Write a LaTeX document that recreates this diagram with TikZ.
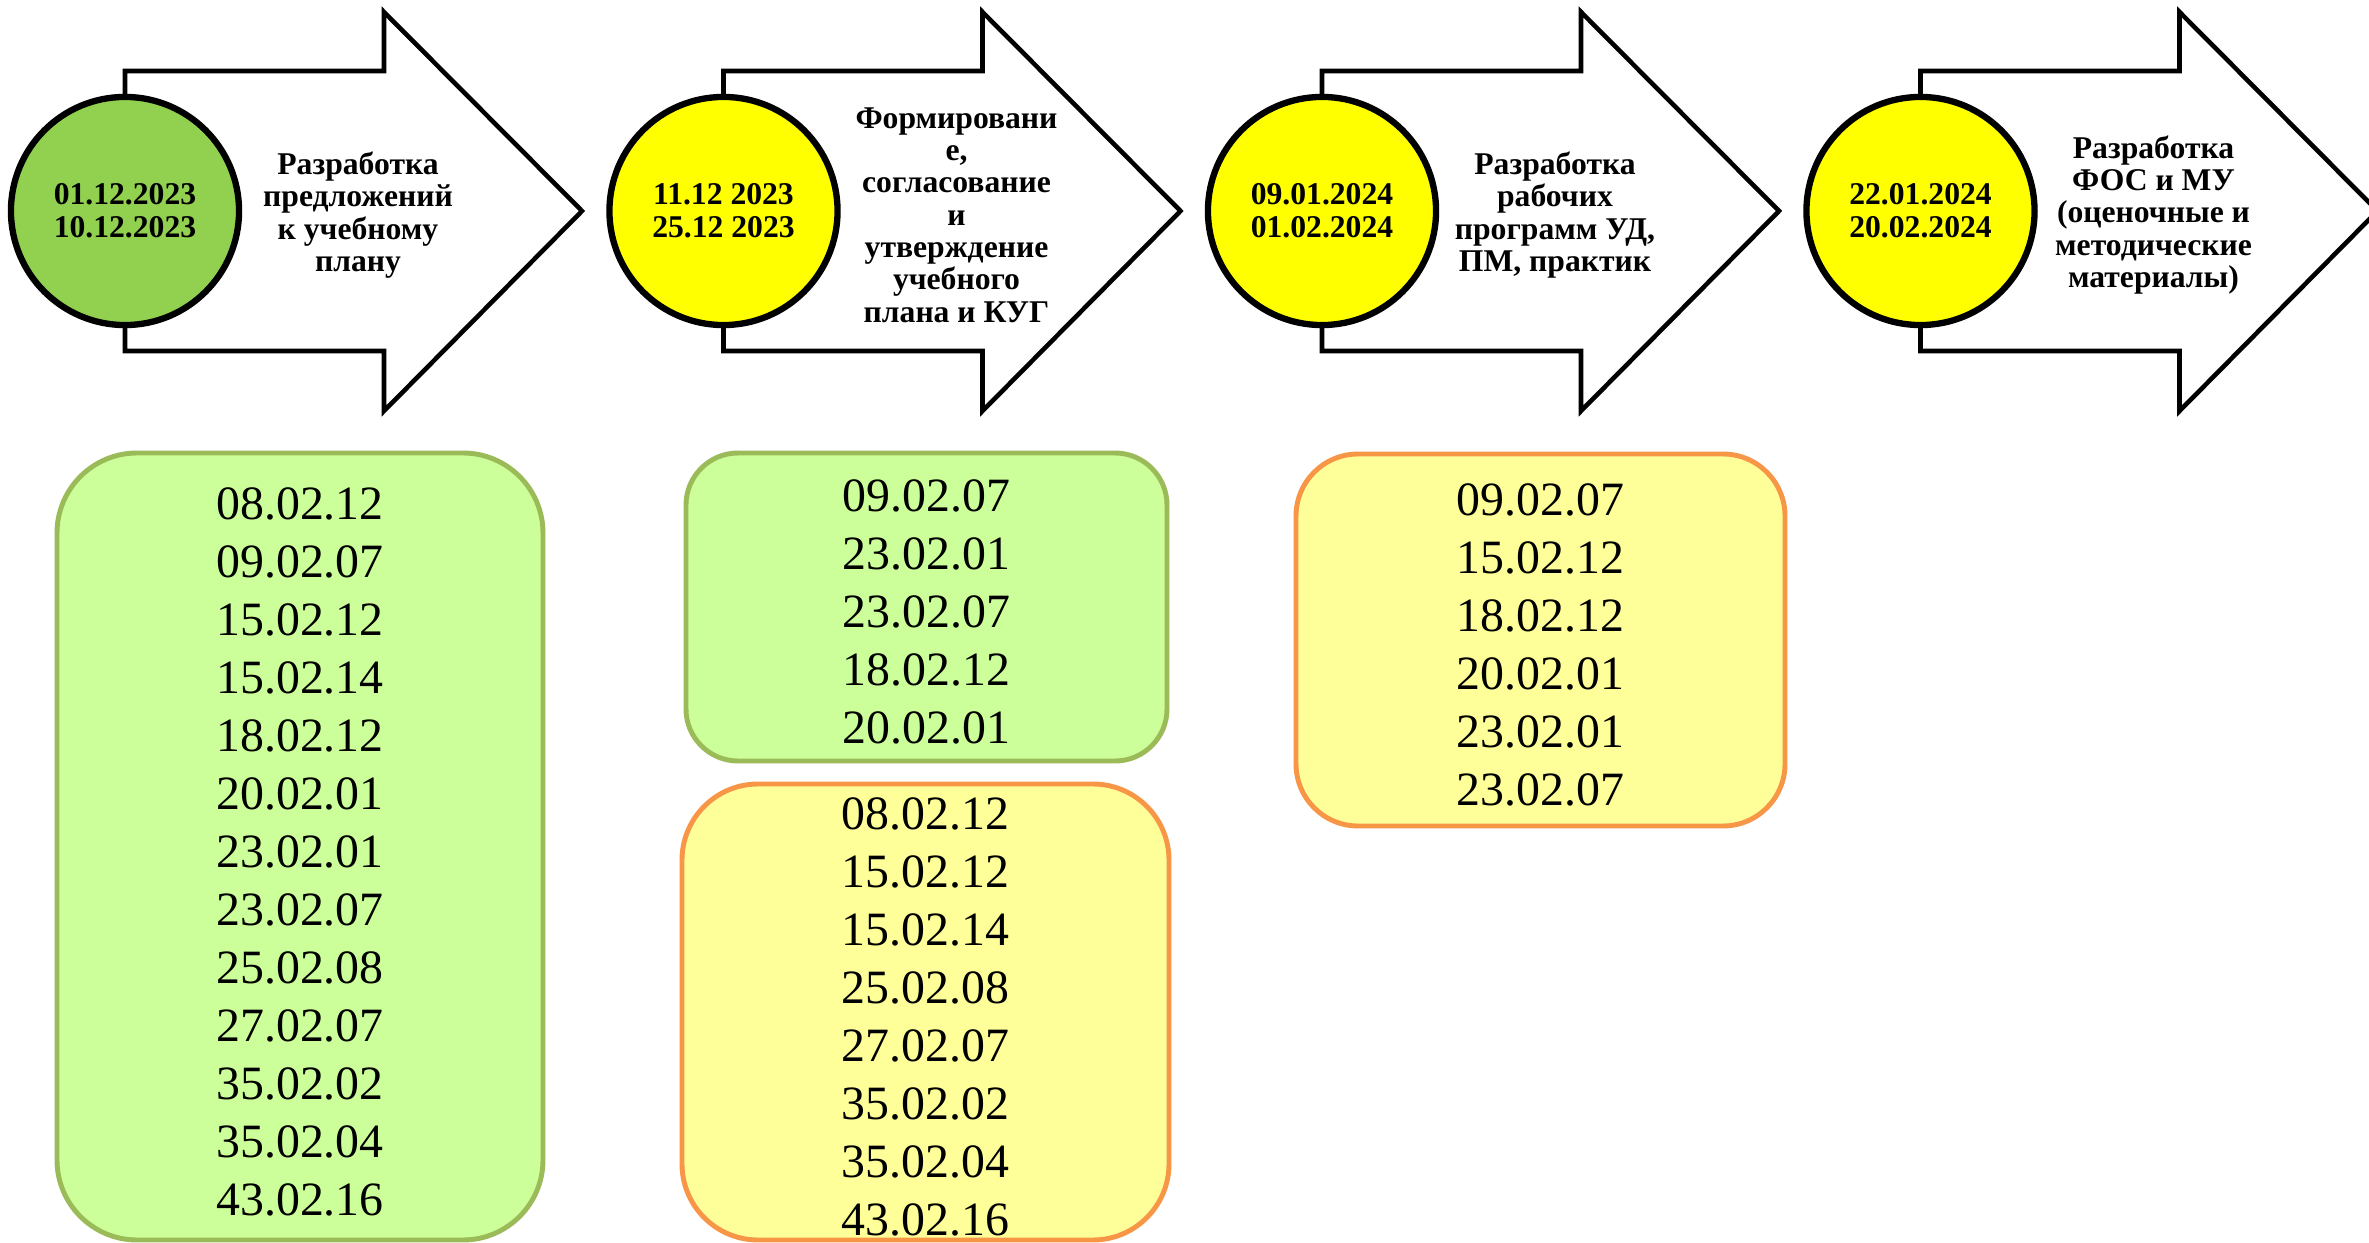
\documentclass[tikz,border=0pt]{standalone}
\usepackage{fontspec}
\setmainfont{Liberation Serif}
\usepackage{xcolor}
\usepackage{tikz}
\definecolor{leafgreen}{HTML}{92D050}
\definecolor{sunyellow}{HTML}{FFFF00}
\definecolor{palegreen}{HTML}{CCFF99}
\definecolor{olivegreen}{HTML}{9BBB59}
\definecolor{paleyellow}{HTML}{FFFF99}
\definecolor{softorange}{HTML}{F79646}
\tikzset{
	listbox/.style={rounded corners=#1, line width=1.4pt},
	greenbox/.style={listbox=#1, fill=palegreen, draw=olivegreen},
	yellowbox/.style={listbox=#1, fill=paleyellow, draw=softorange}
}
\tikzstyle{stagearrow} = [draw=black, line width=1.3pt, fill=white]
\tikzstyle{datecirc} = [circle, draw=black, line width=1.8pt, minimum size=2.28cm, inner sep=0pt, align=center, font=\fontsize{9}{9.3}\selectfont\bfseries]
\tikzstyle{stagetext} = [align=center, font=\fontsize{9}{9.2}\selectfont\bfseries]
\tikzstyle{listtext} = [align=center, inner sep=0pt, font=\fontsize{13.6}{16.5}\selectfont]

\begin{document}
\begin{tikzpicture}[x=0.01cm, y=-0.01cm]
  \clip (0,0) rectangle (2369,1243);
  \fill[white] (0,0) rectangle (2369,1243);

  % stages along the top
  \foreach \i/\col/\dates/\txt in {
      0/leafgreen/{01.12.2023\\10.12.2023}/{Разработка\\предложений\\к учебному\\плану},
      1/sunyellow/{11.12 2023\\25.12 2023}/{Формировани\\е,\\согласование\\и\\утверждение\\учебного\\плана и КУГ},
      2/sunyellow/{09.01.2024\\01.02.2024}/{Разработка\\рабочих\\программ УД,\\ПМ, практик},
      3/sunyellow/{22.01.2024\\20.02.2024}/{Разработка\\ФОС и МУ\\(оценочные и\\методические\\материалы)}}{
    \pgfmathsetmacro{\ox}{598.5*\i}
    \draw[stagearrow] ({125+\ox},71) -- ({384+\ox},71) -- ({384+\ox},12)
      -- ({582+\ox},211) -- ({384+\ox},411) -- ({384+\ox},351) -- ({125+\ox},351) -- cycle;
    \node[datecirc, fill=\col] (d\i) at ({125+\ox},211) {\dates};
    \node[stagetext] (t\i) at ({358+\ox},215) {\txt};
  }

  % lists of specialties
  \draw[greenbox=0.8cm] (57,453) rectangle (543,1240);
  \node[listtext] (list1) at (300,852)
    {08.02.12\\09.02.07\\15.02.12\\15.02.14\\18.02.12\\20.02.01\\23.02.01\\23.02.07\\25.02.08\\27.02.07\\35.02.02\\35.02.04\\43.02.16};
  \draw[greenbox=0.52cm] (686,453) rectangle (1167,761);
  \node[listtext] (list2) at (926.5,612)
    {09.02.07\\23.02.01\\23.02.07\\18.02.12\\20.02.01};
  \draw[yellowbox=0.76cm] (682,784) rectangle (1169,1240);
  \node[listtext] (list3) at (925.5,1017)
    {08.02.12\\15.02.12\\15.02.14\\25.02.08\\27.02.07\\35.02.02\\35.02.04\\43.02.16};
  \draw[yellowbox=0.62cm] (1296,454) rectangle (1785,826);
  \node[listtext] (list4) at (1540.5,645)
    {09.02.07\\15.02.12\\18.02.12\\20.02.01\\23.02.01\\23.02.07};
\end{tikzpicture}
\end{document}
